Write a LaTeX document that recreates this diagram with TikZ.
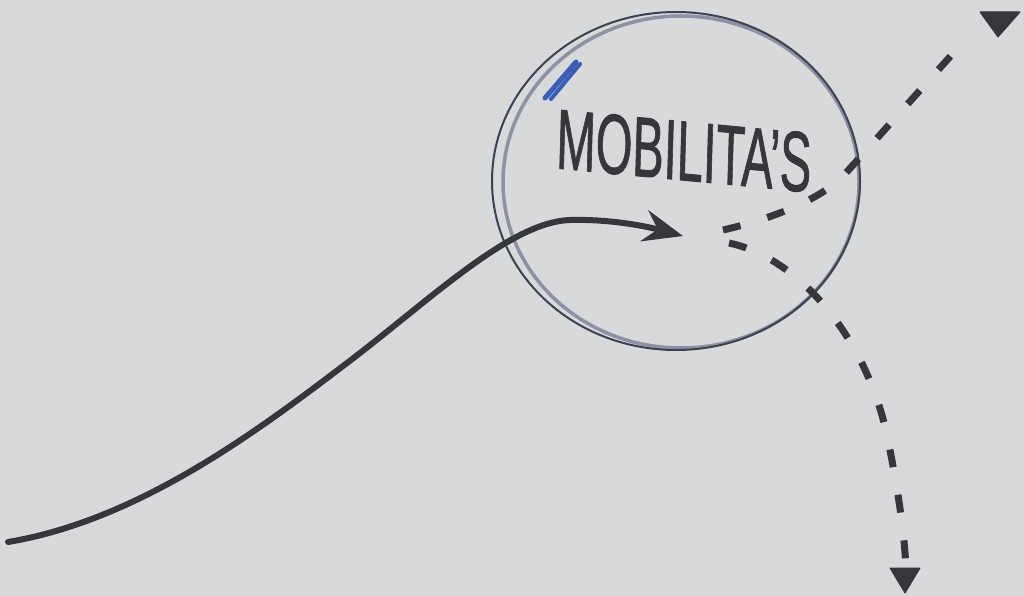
\documentclass[tikz,border=0pt]{standalone}
\usepackage{fontspec}
\setmainfont{Liberation Sans}
\newfontfamily\handfont[FakeBold=1.2]{Liberation Sans}
\usetikzlibrary{arrows.meta}
\definecolor{paper}{HTML}{D8D9DB}
\definecolor{ink}{HTML}{36373B}
\definecolor{ringdark}{HTML}{3E4150}
\definecolor{ringlight}{HTML}{8E91A3}
\definecolor{marker}{HTML}{3C5DB5}
\tikzset{
  solidlink/.style={draw=ink, line width=6pt, line cap=round},
  dashlink/.style={draw=ink, line width=7pt, dash pattern=on 18pt off 28pt},
  headfill/.style={fill=ink, draw=ink, line width=1pt, line join=round},
  ringA/.style={draw=ringdark, line width=2pt},
  ringB/.style={draw=ringlight, line width=3.5pt},
}
\begin{document}
\begin{tikzpicture}[x={(1pt,0pt)}, y={(0pt,-1pt)}]
\useasboundingbox[fill=paper] (0,0) rectangle (1024,596);
% circle
\draw[ringB] (681,182) ellipse [x radius=178pt, y radius=166pt];
\draw[ringA] (676,181) ellipse [x radius=184pt, y radius=169pt];
% blue marker stroke
\draw[marker, line width=5pt, line cap=round] (545,98) -- (576,62);
\draw[marker, line width=4pt, line cap=round] (551,99) -- (580,64);
% label
\node[inner sep=0pt, text=ink, font=\fontsize{85}{85}\handfont, xscale=0.555, rotate=-3] (label) at (684,151) {MOBILITA’S};
% points
\coordinate (start) at (8,542);
\coordinate (bend1) at (347,363);
\coordinate (bend2) at (570,220);
\coordinate (tip) at (683,236);
\coordinate (splitA) at (723,230);
\coordinate (kneeA) at (845,174);
\coordinate (endA) at (965,40);
\coordinate (splitB) at (729,243);
\coordinate (midB) at (888,440);
\coordinate (endB) at (906,568);
% solid incoming arrow
\draw[solidlink, -{Stealth[length=40pt, width=32pt, inset=14pt]}]
  (start) .. controls (140,520) and (260,429) .. (bend1)
  .. controls (430,300) and (510,222) .. (bend2)
  .. controls (610,219) and (645,226) .. (tip);
% dashed outgoing arrows
\draw[dashlink] (splitA) .. controls (780,217) and (825,196) .. (kneeA) -- (endA);
\draw[dashlink] (splitB) .. controls (800,258) and (868,340) .. (midB)
  .. controls (898,490) and (904,530) .. (endB);
% arrow heads (hand-drawn triangles)
\coordinate (hA1) at (980,12);
\coordinate (hA2) at (1020,12);
\coordinate (hA3) at (998,37);
\filldraw[headfill] (hA1) -- (hA2) -- (hA3) -- cycle;
\coordinate (hB1) at (890,568);
\coordinate (hB2) at (920,568);
\coordinate (hB3) at (905,593);
\filldraw[headfill] (hB1) -- (hB2) -- (hB3) -- cycle;
\end{tikzpicture}
\end{document}
